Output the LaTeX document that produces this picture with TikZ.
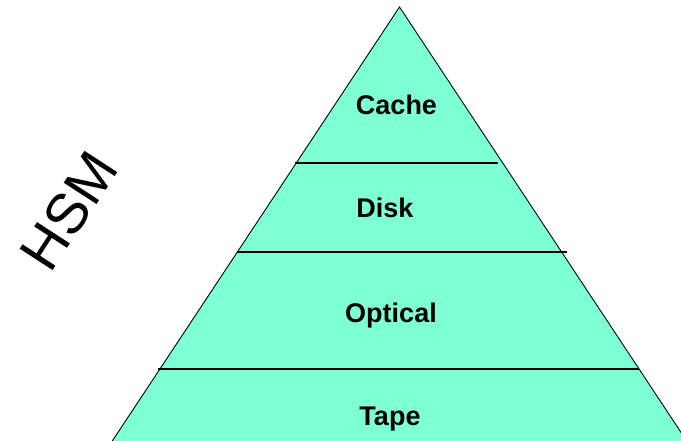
\documentclass[tikz,border=0pt]{standalone}
\usepackage{fontspec}
\setmainfont{Liberation Sans}
\definecolor{aqua}{RGB}{127,255,212}
\begin{document}
\begin{tikzpicture}[x=1pt,y=-1pt,
  tier/.style={font=\fontsize{27}{30}\selectfont\bfseries, anchor=base, inner sep=0pt},
  tierline/.style={draw=black, line width=2pt},
  pyr/.style={fill=aqua, draw=black, line width=0.9pt}]
\useasboundingbox (0,0) rectangle (681,441);
\begin{scope}
\clip (0,0) rectangle (681,441);
\fill[white] (0,0) rectangle (681,441);
\coordinate (apex) at (399.5,7);
\coordinate (bl) at (105,452);
\coordinate (br) at (694,452);
\fill[aqua] (bl) -- (apex) -- (br) -- cycle;
\draw[black, line width=0.9pt] (bl) -- (apex) -- (br);
\coordinate (l1a) at (295,163); \coordinate (l1b) at (498,163);
\coordinate (l2a) at (237,252); \coordinate (l2b) at (567,252);
\coordinate (l3a) at (158,369); \coordinate (l3b) at (639,369);
\draw[tierline] (l1a) -- (l1b);
\draw[tierline] (l2a) -- (l2b);
\draw[tierline] (l3a) -- (l3b);
\end{scope}
\node[tier] (cache) at (396.5,115) {Cache};
\node[tier] (disk) at (385,218) {Disk};
\node[tier] (optical) at (391,323) {Optical};
\node[tier] (tape) at (390,425) {Tape};
\node[font=\fontsize{57}{60}\selectfont, rotate=57, inner sep=0pt] (hsm) at (69,211) {HSM};
\end{tikzpicture}
\end{document}
